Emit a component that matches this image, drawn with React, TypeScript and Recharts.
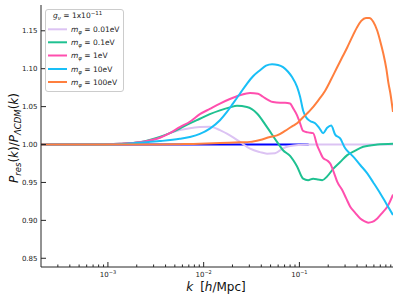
import React from 'react';
import { LineChart, Line, XAxis, YAxis } from 'recharts';

// ---------- data ----------
const kBlue = [2e-4, 0.125];
const pBlue = [1.0, 1.0];

const kLavender = [2e-4, 8.2e-4, 1.33e-3, 2.15e-3, 3.48e-3, 4.43e-3, 5.63e-3, 7.17e-3, 9.13e-3, 1.16e-2, 1.48e-2, 1.88e-2, 2.39e-2, 3.05e-2, 3.88e-2, 4.59e-2, 5.57e-2, 6.75e-2, 7.99e-2, 0.1017, 0.1294, 0.2, 0.5, 0.95];
const pLavender = [1.0, 1.0, 1.001, 1.003, 1.009, 1.015, 1.019, 1.0215, 1.023, 1.0235, 1.019, 1.012, 1.0035, 0.9945, 0.99, 0.988, 0.9885, 0.995, 0.998, 0.9995, 1.0, 1.0, 1.0, 1.0];

const kGreen = [2e-4, 8.2e-4, 1.33e-3, 2.15e-3, 3.48e-3, 4.43e-3, 5.63e-3, 7.17e-3, 9.13e-3, 1.16e-2, 1.48e-2, 1.88e-2, 2.23e-2, 2.83e-2, 3.61e-2, 4.59e-2, 5.84e-2, 6.75e-2, 7.99e-2, 9.46e-2, 0.1093, 0.1233, 0.1391, 0.157, 0.1729, 0.195, 0.2254, 0.2668, 0.3159, 0.383, 0.4645, 0.651, 0.95];
const pGreen = [1.0, 1.0, 1.001, 1.003, 1.01, 1.015, 1.021, 1.028, 1.034, 1.04, 1.045, 1.049, 1.051, 1.0495, 1.041, 1.023, 1.0035, 0.9925, 0.985, 0.971, 0.955, 0.953, 0.955, 0.954, 0.953, 0.958, 0.968, 0.977, 0.986, 0.992, 0.997, 1.0, 1.001];

const kPink = [2e-4, 8.2e-4, 1.33e-3, 2.15e-3, 3.48e-3, 4.43e-3, 5.63e-3, 7.17e-3, 9.13e-3, 1.16e-2, 1.48e-2, 1.88e-2, 2.39e-2, 3.05e-2, 3.7e-2, 4.17e-2, 4.7e-2, 5.3e-2, 6.28e-2, 7.08e-2, 7.99e-2, 8.59e-2, 9.46e-2, 0.1017, 0.1093, 0.1233, 0.1391, 0.1532, 0.1647, 0.1771, 0.195, 0.2097, 0.2309, 0.2481, 0.28, 0.3083, 0.3396, 0.383, 0.432, 0.476, 0.5241, 0.5772, 0.651, 0.7345, 0.8285, 0.95];
const pPink = [1.0, 1.0, 1.001, 1.003, 1.009, 1.015, 1.023, 1.03, 1.04, 1.047, 1.054, 1.06, 1.065, 1.068, 1.067, 1.063, 1.059, 1.056, 1.055, 1.055, 1.054, 1.048, 1.0385, 1.028, 1.018, 1.016, 1.015, 0.999, 0.99, 0.982, 0.979, 0.975, 0.962, 0.951, 0.94, 0.929, 0.918, 0.91, 0.9026, 0.899, 0.897, 0.898, 0.9026, 0.91, 0.918, 0.934];

const kCyan = [2e-4, 8.2e-4, 1.33e-3, 2.15e-3, 3.48e-3, 5.63e-3, 7.17e-3, 9.13e-3, 1.16e-2, 1.48e-2, 1.75e-2, 2.02e-2, 2.39e-2, 2.83e-2, 3.28e-2, 3.88e-2, 4.48e-2, 5.18e-2, 5.98e-2, 6.75e-2, 7.61e-2, 8.38e-2, 9.46e-2, 0.1017, 0.1093, 0.1175, 0.1294, 0.146, 0.1608, 0.1771, 0.195, 0.2147, 0.2365, 0.2668, 0.3009, 0.3396, 0.365, 0.432, 0.5116, 0.591, 0.6998, 0.809, 0.95];
const pCyan = [1.0, 1.0, 1.0005, 1.0025, 1.0045, 1.0075, 1.01, 1.014, 1.021, 1.032, 1.043, 1.054, 1.067, 1.08, 1.09, 1.098, 1.104, 1.106, 1.105, 1.102, 1.096, 1.089, 1.076, 1.063, 1.045, 1.036, 1.031, 1.028, 1.022, 1.015, 1.022, 1.025, 1.013, 1.008, 0.995, 0.988, 0.984, 0.973, 0.962, 0.95, 0.9355, 0.922, 0.907];

const kOrange = [2e-4, 2.73e-3, 5.63e-3, 9.13e-3, 1.48e-2, 2.39e-2, 3.05e-2, 3.88e-2, 4.93e-2, 5.84e-2, 7.08e-2, 8.38e-2, 9.46e-2, 0.1093, 0.1294, 0.157, 0.1858, 0.2147, 0.2481, 0.28, 0.3159, 0.3563, 0.4019, 0.4426, 0.4957, 0.5369, 0.591, 0.651, 0.6998, 0.7522, 0.809, 0.8487, 0.8905, 0.95];
const pOrange = [1.0, 1.0, 1.0005, 1.001, 1.002, 1.003, 1.0035, 1.006, 1.01, 1.012, 1.018, 1.024, 1.028, 1.036, 1.045, 1.058, 1.071, 1.086, 1.102, 1.115, 1.128, 1.142, 1.155, 1.163, 1.167, 1.167, 1.162, 1.15, 1.136, 1.12, 1.1, 1.082, 1.068, 1.043];

const massLabels = ['0.01eV', '0.1eV', '1eV', '10eV', '100eV'];
const seriesColors = ['#dcc3f3', '#1fc191', '#ff4fae', '#19bff7', '#ff7f3e'];

const majorXTicks = [0.001, 0.01, 0.1];
const xTickExponents = ['\u22123', '\u22122', '\u22121'];
const minorXTicks = [3e-4, 4e-4, 5e-4, 6e-4, 7e-4, 8e-4, 9e-4, 2e-3, 3e-3, 4e-3, 5e-3, 6e-3, 7e-3, 8e-3, 9e-3, 2e-2, 3e-2, 4e-2, 5e-2, 6e-2, 7e-2, 8e-2, 9e-2, 0.2, 0.3, 0.4, 0.5, 0.6, 0.7, 0.8, 0.9];
const yTicks = [0.85, 0.9, 0.95, 1.0, 1.05, 1.1, 1.15];
const yTickLabels = ['0.85', '0.90', '0.95', '1.00', '1.05', '1.10', '1.15'];

const toRows = (ks: number[], ps: number[]) => ks.map((k, i) => ({ k, v: ps[i] }));

const allTicks = [...minorXTicks, ...majorXTicks].sort((a, b) => a - b);

const FONT = 'DejaVu Sans';
const AX = '#262626';

const isMajor = (v: number) => majorXTicks.some((m) => Math.abs(m - v) / m < 1e-6);

const BottomTick = (props: any) => {
  const { x, y, payload } = props;
  const v = payload.value;
  const mi = majorXTicks.findIndex((m) => Math.abs(m - v) / m < 1e-6);
  const major = mi >= 0;
  return (
    <g>
      <line x1={x} x2={x} y1={y} y2={y - (major ? 5 : 2.5)} stroke={AX} strokeWidth={1} />
      {major && (
        <text x={x} y={y + 10} textAnchor="middle" fontSize={7} fontFamily={FONT} fill="#222">
          10<tspan dy={-3} fontSize={5}>{xTickExponents[mi]}</tspan>
        </text>
      )}
    </g>
  );
};

const TopTick = (props: any) => {
  const { x, y, payload } = props;
  if (!isMajor(payload.value)) return <g />;
  return <line x1={x} x2={x} y1={y} y2={y + 5} stroke={AX} strokeWidth={1} />;
};

const LeftTick = (props: any) => {
  const { x, y, payload } = props;
  const i = yTicks.findIndex((t) => Math.abs(t - payload.value) < 1e-6);
  return (
    <g>
      <line x1={x} x2={x + 5} y1={y} y2={y} stroke={AX} strokeWidth={1} />
      <text x={x - 3.5} y={y + 2.5} textAnchor="end" fontSize={7} fontFamily={FONT} fill="#222">
        {yTickLabels[i]}
      </text>
    </g>
  );
};

const RightTick = (props: any) => {
  const { x, y } = props;
  return <line x1={x} x2={x - 5} y1={y} y2={y} stroke={AX} strokeWidth={1} />;
};

const series = [
  { k: kLavender, p: pLavender },
  { k: kGreen, p: pGreen },
  { k: kPink, p: pPink },
  { k: kCyan, p: pCyan },
  { k: kOrange, p: pOrange },
];

const legendRowsY = [29.3, 42.3, 55.5, 69, 82];

export default function App() {
  return (
    <div style={{ position: 'absolute', left: 0, top: 0, width: 398, height: 301, background: '#fff' }}>
      <LineChart width={398} height={301} margin={{ top: 5, right: 5, bottom: 0, left: 0 }}>
        <XAxis
          xAxisId="b"
          type="number"
          dataKey="k"
          scale="log"
          domain={[2e-4, 0.95]}
          allowDataOverflow
          ticks={allTicks}
          interval={0}
          tick={<BottomTick />}
          tickLine={false}
          tickSize={0}
          tickMargin={0}
          axisLine={{ stroke: AX, strokeWidth: 1 }}
          height={34}
        />
        <XAxis
          xAxisId="t"
          orientation="top"
          type="number"
          dataKey="k"
          scale="log"
          domain={[2e-4, 0.95]}
          allowDataOverflow
          ticks={majorXTicks}
          interval={0}
          tick={<TopTick />}
          tickLine={false}
          tickSize={0}
          tickMargin={0}
          axisLine={{ stroke: AX, strokeWidth: 1 }}
          height={0}
        />
        <YAxis
          yAxisId="l"
          type="number"
          domain={[0.8385, 1.184]}
          allowDataOverflow
          ticks={yTicks}
          interval={0}
          tick={<LeftTick />}
          tickLine={false}
          tickSize={0}
          tickMargin={0}
          axisLine={{ stroke: AX, strokeWidth: 1 }}
          width={41}
        />
        <YAxis
          yAxisId="r"
          orientation="right"
          type="number"
          domain={[0.8385, 1.184]}
          allowDataOverflow
          ticks={yTicks}
          interval={0}
          tick={<RightTick />}
          tickLine={false}
          tickSize={0}
          tickMargin={0}
          axisLine={{ stroke: AX, strokeWidth: 1 }}
          width={0}
        />
        <Line
          xAxisId="b"
          yAxisId="l"
          data={toRows(kBlue, pBlue)}
          dataKey="v"
          stroke="#0000ff"
          strokeWidth={2}
          dot={false}
          isAnimationActive={false}
        />
        {series.map((s, i) => (
          <Line
            key={i}
            xAxisId="b"
            yAxisId="l"
            data={toRows(s.k, s.p)}
            dataKey="v"
            type="monotone"
            stroke={seriesColors[i]}
            strokeWidth={2}
            dot={false}
            isAnimationActive={false}
          />
        ))}
      </LineChart>
      <svg
        width={398}
        height={301}
        style={{ position: 'absolute', left: 0, top: 0, pointerEvents: 'none' }}
        fontFamily={FONT}
      >
        <rect x={45.5} y={9.5} width={78} height={82} rx={2.5} fill="#fff" fillOpacity={0.8} stroke="#cccccc" strokeWidth={1} />
        <text x={53} y={18} fontSize={7.5} fill="#222">
          <tspan fontStyle="italic">g</tspan>
          <tspan dy={1.8} fontSize={5.5} fontStyle="italic">ν</tspan>
          <tspan dy={-1.8}> = 1x10</tspan>
          <tspan dy={-3} fontSize={5.5}>−11</tspan>
        </text>
        {massLabels.map((m, i) => (
          <g key={m}>
            <line x1={48} x2={67} y1={legendRowsY[i]} y2={legendRowsY[i]} stroke={seriesColors[i]} strokeWidth={2} />
            <text x={71} y={legendRowsY[i] + 2.7} fontSize={7.5} fill="#222">
              <tspan fontStyle="italic">m</tspan>
              <tspan dy={1.8} fontSize={5.5} fontStyle="italic">φ</tspan>
              <tspan dy={-1.8}>{' = ' + m}</tspan>
            </text>
          </g>
        ))}
        <text x={-138} y={18} transform="rotate(-90)" textAnchor="middle" fontSize={12} fill="#111">
          <tspan fontStyle="italic">P</tspan>
          <tspan dy={2.5} fontSize={8.5} fontStyle="italic">res</tspan>
          <tspan dy={-2.5}>(</tspan>
          <tspan fontStyle="italic">k</tspan>
          <tspan>)/</tspan>
          <tspan fontStyle="italic">P</tspan>
          <tspan dy={2.5} fontSize={8.5} fontStyle="italic">ΛCDM</tspan>
          <tspan dy={-2.5}>(</tspan>
          <tspan fontStyle="italic">k</tspan>
          <tspan>)</tspan>
        </text>
        <text x={216} y={291} textAnchor="middle" fontSize={12} fill="#111">
          <tspan fontStyle="italic">k</tspan>
          <tspan dx={7}>[</tspan>
          <tspan fontStyle="italic">h</tspan>
          <tspan>/Mpc]</tspan>
        </text>
      </svg>
    </div>
  );
}
